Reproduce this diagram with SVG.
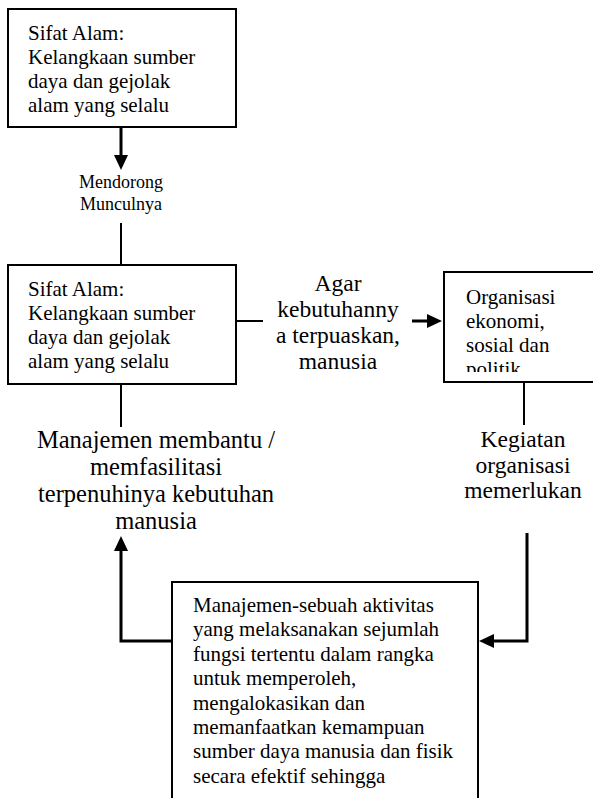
<svg xmlns="http://www.w3.org/2000/svg" width="593" height="798" viewBox="0 0 593 798" font-family="Liberation Serif">
<style>
.box{fill:#fff;stroke:#000;stroke-width:2}
.bt{font-size:21px;fill:#000}
.lb{font-size:23.5px;fill:#000;text-anchor:middle}
.lg{font-size:24.5px;fill:#000;text-anchor:middle}
.sm{font-size:18px;fill:#000;text-anchor:middle}
.ln{fill:none;stroke:#000;stroke-width:2}
.ar{fill:none;stroke:#000;stroke-width:3;marker-end:url(#ah)}
</style>
<defs>
<marker id="ah" markerUnits="userSpaceOnUse" markerWidth="15" markerHeight="14" refX="0" refY="7" orient="auto">
<path d="M0,0 L15,7 L0,14 z" fill="#000"/>
</marker>
<clipPath id="c3"><rect x="444" y="272" width="160" height="100"/></clipPath>
</defs>
<g id="connectors">
<path class="ar" d="M121,127 V155"/>
<path class="ln" d="M121,223 V265"/>
<path class="ln" d="M236,321 H263"/>
<path class="ar" d="M412,321 H427"/>
<path class="ln" d="M121,384 V427"/>
<path class="ln" d="M524,382 V425"/>
<path class="ar" d="M527,533 V641 H494"/>
<path class="ar" d="M172,641 H121 V551"/>
</g>
<g id="node1">
<rect class="box" x="8" y="9" width="228" height="118"/>
<text class="bt" x="28" y="40">Sifat Alam:</text>
<text class="bt" x="28" y="64">Kelangkaan sumber</text>
<text class="bt" x="28" y="88">daya dan gejolak</text>
<text class="bt" x="28" y="112">alam yang selalu</text>
</g>
<g id="label-mendorong">
<text class="sm" x="121" y="188">Mendorong</text>
<text class="sm" x="121" y="210">Munculnya</text>
</g>
<g id="node2">
<rect class="box" x="8" y="265" width="228" height="119"/>
<text class="bt" x="28" y="296">Sifat Alam:</text>
<text class="bt" x="28" y="320">Kelangkaan sumber</text>
<text class="bt" x="28" y="344">daya dan gejolak</text>
<text class="bt" x="28" y="368">alam yang selalu</text>
</g>
<g id="label-agar">
<text class="lb" x="338" y="291">Agar</text>
<text class="lb" x="338" y="317">kebutuhanny</text>
<text class="lb" x="338" y="343">a terpuaskan,</text>
<text class="lb" x="338" y="369">manusia</text>
</g>
<g id="node3">
<rect class="box" x="444" y="272" width="160" height="110"/>
<g clip-path="url(#c3)">
<text class="bt" x="466" y="304">Organisasi</text>
<text class="bt" x="466" y="328">ekonomi,</text>
<text class="bt" x="466" y="352">sosial dan</text>
<text class="bt" x="466" y="376">politik</text>
</g>
</g>
<g id="label-kegiatan">
<text class="lb" x="523" y="447">Kegiatan</text>
<text class="lb" x="523" y="472.5">organisasi</text>
<text class="lb" x="523" y="498">memerlukan</text>
</g>
<g id="label-manajemen">
<text class="lg" x="156" y="448">Manajemen membantu /</text>
<text class="lg" x="156" y="475">memfasilitasi</text>
<text class="lg" x="156" y="502">terpenuhinya kebutuhan</text>
<text class="lg" x="156" y="529">manusia</text>
</g>
<g id="node4">
<rect class="box" x="172" y="582" width="306" height="230"/>
<text class="bt" x="193" y="612">Manajemen-sebuah aktivitas</text>
<text class="bt" x="193" y="636.4">yang melaksanakan sejumlah</text>
<text class="bt" x="193" y="660.8">fungsi tertentu dalam rangka</text>
<text class="bt" x="193" y="685.2">untuk memperoleh,</text>
<text class="bt" x="193" y="709.6">mengalokasikan dan</text>
<text class="bt" x="193" y="734">memanfaatkan kemampuan</text>
<text class="bt" x="193" y="758.4">sumber daya manusia dan fisik</text>
<text class="bt" x="193" y="782.8">secara efektif sehingga</text>
</g>
</svg>
